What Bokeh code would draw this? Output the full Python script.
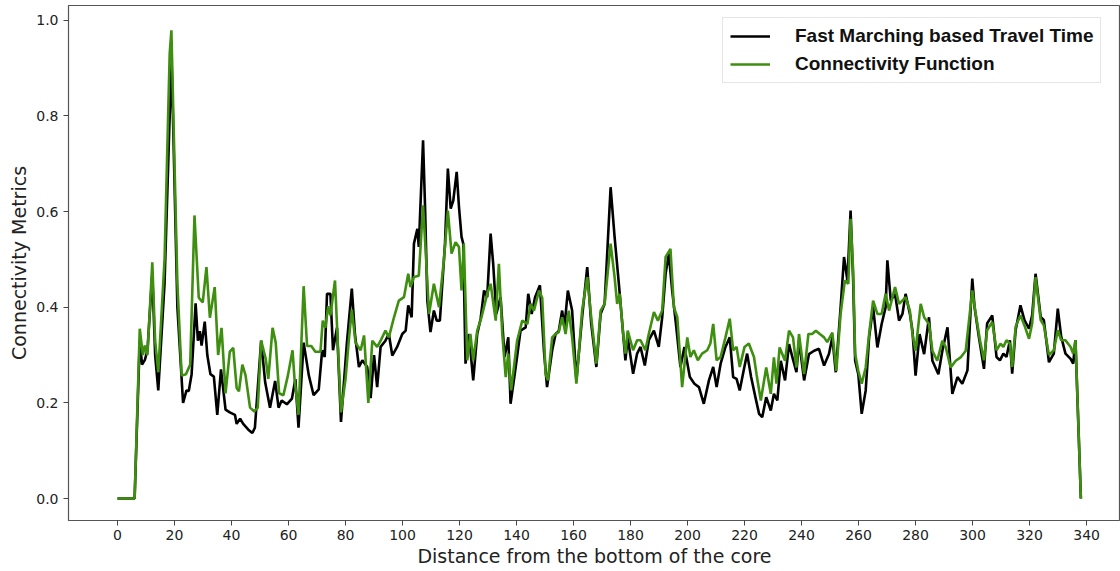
from bokeh.plotting import figure
from bokeh.models import Range1d, FixedTicker, Legend, LegendItem, CustomJSTickFormatter
from bokeh.embed import file_html
from bokeh.resources import INLINE

# Fast Marching based Travel Time (black)
fm_x = [0, 6, 7.8, 8.6, 9.6, 10.5, 12.2, 13.2, 14.3, 16.5, 18.3, 19.0, 19.6, 21.0, 23.0, 24.2, 25.0, 26.0,
        27.4, 28.2, 28.9, 29.5, 30.6, 31.5, 32.6, 33.8, 35.0, 36.3, 37.9, 39.4, 41.2, 41.8, 43.0, 44.1,
        45.9, 47.3, 48.2, 50.4, 51.8, 53.5, 55.3, 56.5, 57.6, 59.4, 61.2, 62.4, 63.5, 65.3, 67.1, 68.8,
        70.6, 71.8, 72.7, 73.5, 74.7, 75.6, 77.0, 78.4, 80.4, 82.2, 83.3, 84.7, 85.9, 87.6, 88.8, 90.0,
        91.1, 92.3, 94.0, 95.2, 96.4, 98.1, 99.9, 101.1, 102.0, 103.2, 104.0, 105.2, 105.7, 107.2, 107.9,
        108.7, 109.8, 111.0, 112.0, 113.1, 114.9, 115.9, 116.9, 117.8, 119.0, 119.8, 120.7, 121.3, 122.1,
        123.3, 124.8, 126.2, 127.4, 128.6, 129.7, 130.9, 131.8, 132.9, 134.4, 135.8, 137.1, 137.9, 139.7,
        141.4, 143.2, 144.1, 145.3, 146.5, 148.2, 149.6, 150.7, 152.5, 153.7, 154.8, 156.0, 156.8, 158.0,
        159.5, 161.0, 163.0, 164.8, 166.2, 168.0, 169.5, 170.9, 173.0, 174.4, 175.9, 177.1, 178.2, 179.0,
        180.9, 182.3, 183.5, 185.0, 186.4, 188.2, 189.9, 191.1, 192.3, 193.4, 194.6, 195.8, 197.5, 198.9,
        200.8, 202.4, 204.0, 205.7, 207.5, 209.0, 210.2, 211.6, 213.3, 214.8, 216.0, 217.2, 218.3, 219.7,
        220.9, 222.3, 223.8, 225.1, 226.2, 227.6, 229.2, 230.3, 231.5, 232.7, 234.2, 235.6, 236.8, 238.2,
        239.1, 240.9, 242.6, 244.4, 246.1, 247.9, 249.6, 250.8, 252.0, 253.7, 254.9, 256.1, 257.2, 258.1,
        258.8, 259.9, 261.1, 262.5, 263.7, 265.1, 266.6, 268.1, 269.5, 270.1, 271.3, 272.8, 274.2, 275.4,
        276.5, 278.0, 278.9, 280.0, 281.4, 283.0, 284.7, 285.9, 288.0, 289.4, 291.2, 292.9, 294.7, 296.4,
        298.2, 299.9, 300.7, 302.2, 304.0, 305.1, 306.9, 308.4, 309.6, 310.8, 311.9, 313.1, 313.9, 315.1,
        316.8, 318.2, 319.8, 320.9, 322.1, 323.9, 325.0, 326.8, 328.5, 329.9, 331.1, 332.6, 334.4, 335.3,
        336.1, 338.0]
fm_y = [0, 0, 0.33, 0.28, 0.29, 0.31, 0.47, 0.30, 0.226, 0.45, 0.80, 0.91, 0.76, 0.40, 0.20, 0.226, 0.225, 0.26,
        0.408, 0.33, 0.35, 0.32, 0.37, 0.30, 0.26, 0.255, 0.175, 0.27, 0.186, 0.18, 0.175, 0.156, 0.167, 0.156,
        0.144, 0.137, 0.148, 0.33, 0.243, 0.19, 0.246, 0.19, 0.205, 0.197, 0.209, 0.25, 0.148, 0.326, 0.258, 0.216,
        0.228, 0.31, 0.296, 0.428, 0.428, 0.31, 0.357, 0.16, 0.32, 0.439, 0.344, 0.275, 0.289, 0.275, 0.21, 0.30,
        0.233, 0.317, 0.33, 0.344, 0.299, 0.317, 0.344, 0.351, 0.404, 0.379, 0.533, 0.564, 0.526, 0.749, 0.61,
        0.414, 0.348, 0.393, 0.372, 0.372, 0.533, 0.69, 0.606, 0.623, 0.683, 0.61, 0.547, 0.533, 0.282,
        0.344, 0.247, 0.344, 0.376, 0.435, 0.421, 0.554, 0.491, 0.386, 0.421, 0.296, 0.337, 0.198, 0.275,
        0.351, 0.358, 0.428, 0.386, 0.421, 0.446, 0.31, 0.233, 0.31, 0.344, 0.35, 0.393, 0.358, 0.435,
        0.393, 0.247, 0.379, 0.484, 0.365, 0.275, 0.386, 0.407, 0.651, 0.547, 0.449, 0.365, 0.289, 0.337,
        0.261, 0.303, 0.317, 0.278, 0.331, 0.351, 0.317, 0.379, 0.47, 0.512, 0.435, 0.372, 0.275, 0.317,
        0.254, 0.24, 0.233, 0.198, 0.247, 0.275, 0.233, 0.282, 0.317, 0.337, 0.254, 0.25, 0.226, 0.268,
        0.303, 0.254, 0.212, 0.177, 0.17, 0.212, 0.184, 0.219, 0.205, 0.288, 0.247, 0.323, 0.295, 0.264,
        0.33, 0.247, 0.302, 0.309, 0.313, 0.278, 0.302, 0.337, 0.264, 0.4, 0.505, 0.456, 0.602, 0.456,
        0.288, 0.26, 0.177, 0.226, 0.337, 0.4, 0.316, 0.365, 0.4, 0.498, 0.414, 0.428, 0.372, 0.386,
        0.428, 0.386, 0.351, 0.257, 0.344, 0.302, 0.379, 0.288, 0.26, 0.309, 0.358, 0.219, 0.254, 0.24,
        0.268, 0.46, 0.4, 0.338, 0.271, 0.366, 0.383, 0.296, 0.289, 0.303, 0.296, 0.331, 0.261, 0.352,
        0.404, 0.373, 0.355, 0.383, 0.47, 0.38, 0.373, 0.285, 0.303, 0.397, 0.338, 0.303, 0.292, 0.282,
        0.331, 0.0]

# Connectivity Function (green)
cf_x = [0, 6, 7.8, 8.9, 9.6, 10.5, 12.2, 13.2, 14.3, 16.5, 18.3, 18.9, 19.6, 21.0, 22.5, 24.0, 25.5, 27.0,
        28.5, 29.9, 31.2, 32.4, 34.1, 35.3, 36.5, 37.9, 39.4, 40.6, 41.8, 42.6, 43.8, 44.9, 46.5, 48.0,
        49.2, 50.4, 52.0, 52.9, 54.4, 55.5, 56.7, 58.2, 59.8, 61.4, 62.1, 63.5, 65.3, 66.5, 68.0, 69.4,
        71.2, 72.0, 72.9, 73.9, 74.7, 76.3, 77.4, 78.4, 80.0, 81.2, 82.2, 83.5, 85.3, 86.5, 88.0, 89.4,
        91.1, 92.3, 94.0, 95.2, 97.0, 98.7, 100.5, 102.0, 102.8, 104.0, 105.7, 107.2, 108.1, 109.3, 111.0,
        112.8, 114.5, 115.9, 117.2, 118.6, 119.8, 120.7, 121.5, 122.7, 123.8, 124.8, 126.2, 127.7, 129.7,
        130.9, 132.7, 133.8, 135.0, 136.2, 137.1, 138.1, 140.2, 142.0, 143.8, 144.9, 146.1, 147.9, 149.0,
        150.2, 151.0, 152.5, 153.7, 154.8, 156.0, 157.2, 158.3, 159.5, 161.0, 163.0, 164.8, 166.2, 168.0,
        169.5, 170.9, 173.0, 174.4, 175.3, 176.2, 177.4, 178.2, 179.0, 180.9, 182.3, 183.5, 185.2, 186.4,
        188.2, 189.6, 191.1, 192.3, 194.0, 195.2, 196.4, 198.1, 199.9, 201.0, 202.2, 203.6, 205.1, 206.9,
        208.0, 209.0, 210.2, 211.6, 213.3, 214.8, 216.0, 217.2, 218.3, 220.0, 221.5, 223.3, 224.2, 225.7,
        227.6, 229.2, 230.3, 231.2, 232.3, 234.2, 235.6, 237.0, 238.2, 239.1, 240.9, 242.4, 243.7, 245.0,
        246.4, 247.9, 249.0, 250.8, 252.2, 253.7, 255.2, 256.4, 257.2, 258.1, 258.8, 259.9, 261.1, 262.5,
        263.7, 265.1, 266.6, 268.1, 269.5, 270.7, 272.8, 274.2, 275.4, 276.5, 278.0, 278.9, 280.0, 281.8,
        283.0, 284.7, 285.9, 287.6, 289.4, 290.6, 292.3, 294.1, 295.8, 297.6, 299.9, 301.0, 302.6, 304.0,
        305.1, 306.9, 308.4, 309.8, 310.8, 311.9, 313.1, 313.9, 315.1, 316.8, 318.2, 319.8, 320.9, 322.1,
        323.9, 325.0, 326.8, 328.5, 329.9, 331.1, 332.6, 334.4, 335.3, 336.1, 338.0]
cf_y = [0, 0, 0.355, 0.30, 0.32, 0.30, 0.494, 0.33, 0.264, 0.50, 0.93, 0.979, 0.80, 0.45, 0.257, 0.26, 0.28, 0.592,
        0.42, 0.41, 0.484, 0.378, 0.442, 0.30, 0.357, 0.22, 0.307, 0.315, 0.231, 0.224, 0.28, 0.258, 0.19, 0.182,
        0.19, 0.33, 0.292, 0.25, 0.357, 0.326, 0.22, 0.216, 0.258, 0.31, 0.25, 0.175, 0.444, 0.319, 0.319, 0.307,
        0.307, 0.372, 0.357, 0.402, 0.383, 0.456, 0.31, 0.18, 0.25, 0.334, 0.395, 0.326, 0.31, 0.341, 0.20, 0.33,
        0.317, 0.33, 0.351, 0.337, 0.379, 0.414, 0.421, 0.47, 0.442, 0.463, 0.466, 0.613, 0.519, 0.386, 0.449,
        0.40, 0.498, 0.602, 0.512, 0.536, 0.526, 0.435, 0.533, 0.289, 0.344, 0.289, 0.351, 0.379, 0.428,
        0.449, 0.372, 0.491, 0.344, 0.254, 0.303, 0.226, 0.33, 0.372, 0.365, 0.407, 0.393, 0.435, 0.42,
        0.26, 0.247, 0.337, 0.344, 0.348, 0.379, 0.344, 0.393, 0.337, 0.24, 0.393, 0.463, 0.379, 0.282,
        0.393, 0.407, 0.533, 0.463, 0.407, 0.428, 0.344, 0.303, 0.351, 0.31, 0.331, 0.331, 0.31, 0.344,
        0.39, 0.372, 0.393, 0.505, 0.522, 0.40, 0.379, 0.233, 0.337, 0.296, 0.31, 0.289, 0.303, 0.31,
        0.324, 0.365, 0.289, 0.296, 0.337, 0.376, 0.31, 0.317, 0.275, 0.317, 0.324, 0.296, 0.26, 0.205,
        0.274, 0.219, 0.295, 0.24, 0.316, 0.288, 0.351, 0.337, 0.274, 0.344, 0.26, 0.344, 0.344, 0.351,
        0.344, 0.337, 0.327, 0.347, 0.267, 0.386, 0.456, 0.449, 0.585, 0.477, 0.302, 0.267, 0.24, 0.274,
        0.344, 0.414, 0.386, 0.386, 0.428, 0.393, 0.442, 0.407, 0.414, 0.421, 0.393, 0.344, 0.309, 0.407,
        0.379, 0.365, 0.309, 0.288, 0.33, 0.316, 0.274, 0.288, 0.295, 0.309, 0.435, 0.39, 0.331, 0.289,
        0.352, 0.369, 0.31, 0.324, 0.317, 0.331, 0.324, 0.275, 0.359, 0.383, 0.362, 0.334, 0.366, 0.463,
        0.373, 0.362, 0.30, 0.31, 0.352, 0.331, 0.331, 0.317, 0.303, 0.331, 0.0]

x_ticks = [0, 20, 40, 60, 80, 100, 120, 140, 160, 180, 200, 220, 240, 260, 280, 300, 320, 340]
y_ticks = [0.0, 0.2, 0.4, 0.6, 0.8, 1.0]

series_names = ["Fast Marching based Travel Time", "Connectivity Function"]
x_label = "Distance from the bottom of the core"
y_label = "Connectivity Metrics"

p = figure(width=1120, height=571, output_backend="svg", toolbar_location=None,
           x_range=Range1d(-17.2, 351.9), y_range=Range1d(-0.046, 1.031),
           min_border_left=68, min_border_right=0, min_border_top=5, min_border_bottom=51)

p.background_fill_color = "white"
p.border_fill_color = "white"
p.outline_line_color = "#555555"
p.outline_line_width = 1.2
p.xgrid.visible = False
p.ygrid.visible = False

r1 = p.line(fm_x, fm_y, line_color="#000000", line_width=2.6)
r2 = p.line(cf_x, cf_y, line_color="#3e8e10", line_width=2.6)

for ax in (p.xaxis[0], p.yaxis[0]):
    ax.axis_line_color = None
    ax.major_tick_line_color = "#444444"
    ax.major_tick_out = 5
    ax.major_tick_in = 0
    ax.minor_tick_line_color = None
    ax.major_label_text_font = "DejaVu Sans"
    ax.major_label_text_font_size = "14px"
    ax.major_label_text_color = "#222222"
    ax.axis_label_text_font = "DejaVu Sans"
    ax.axis_label_text_font_size = "19px"
    ax.axis_label_text_font_style = "normal"
    ax.axis_label_text_color = "#222222"

p.xaxis[0].ticker = FixedTicker(ticks=x_ticks)
p.yaxis[0].ticker = FixedTicker(ticks=y_ticks)
p.yaxis[0].formatter = CustomJSTickFormatter(code="return tick.toFixed(1);")
p.xaxis[0].axis_label = x_label
p.yaxis[0].axis_label = y_label
p.xaxis[0].major_label_standoff = 4
p.yaxis[0].major_label_standoff = 5
p.xaxis[0].axis_label_standoff = 2
p.yaxis[0].axis_label_standoff = 3

legend = Legend(items=[LegendItem(label=series_names[0], renderers=[r1]),
                       LegendItem(label=series_names[1], renderers=[r2])],
                location=(654, 437))
legend.label_text_font = "Liberation Sans"
legend.label_text_font_style = "bold"
legend.label_text_font_size = "19px"
legend.label_text_color = "#111111"
legend.glyph_width = 40
legend.glyph_height = 20
legend.label_height = 20
legend.label_standoff = 25
legend.spacing = 6
legend.padding = 7
legend.margin = 0
legend.border_line_color = "#cccccc"
legend.border_line_width = 1
legend.background_fill_alpha = 1.0
p.add_layout(legend, "center")

open("out.html", "w").write(file_html(p, INLINE))
